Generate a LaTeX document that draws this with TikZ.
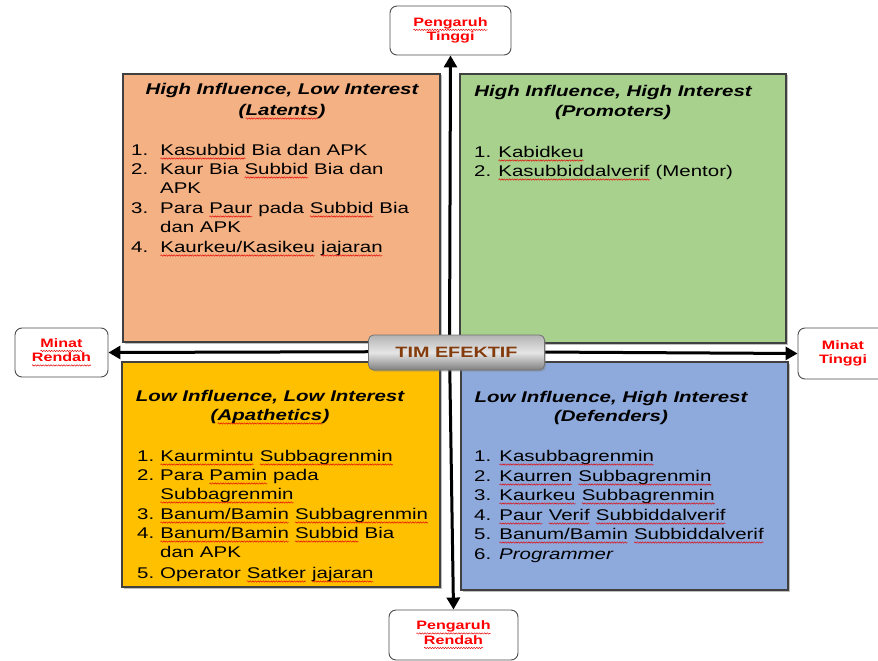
\documentclass[tikz,border=0pt]{standalone}
\usepackage{fontspec}
\setmainfont{Liberation Sans}[FakeStretch=1.32]
\usetikzlibrary{arrows.meta,shadows,decorations.pathmorphing}
\newcommand\sq[1]{\tikz[baseline=(w.base),x=1pt,y=1pt,sharp corners]{\node[shape=rectangle,inner sep=0pt,outer sep=0pt,minimum width=0pt,minimum height=0pt,draw=none,fill=none,anchor=base] (w) at (0,0) {#1};
  \draw[red!90!black, sharp corners, line width=0.45pt, decorate, decoration={snake, amplitude=0.7pt, segment length=2.6pt}] ([yshift=-3.5pt]w.base west) -- ([yshift=-3.5pt]w.base east);}}
\definecolor{qorange}{HTML}{F4B183}
\definecolor{qgreen}{HTML}{A9D18E}
\definecolor{qyellow}{HTML}{FFC000}
\definecolor{qblue}{HTML}{8EA9DB}
\definecolor{timtext}{HTML}{843C0C}
\begin{document}
\begin{tikzpicture}[x=1pt,y=-1pt,
  quad/.style={draw=black!75, line width=1.2pt, drop shadow={shadow xshift=1.5pt, shadow yshift=-1.5pt, opacity=0.5}},
  hd/.style={font=\fontsize{15.5}{18}\selectfont\bfseries\itshape, anchor=base, inner sep=0pt},
  li/.style={font=\fontsize{15.5}{18}\selectfont, anchor=base west, inner sep=0pt},
  lbl/.style={draw=black!70, line width=0.9pt, rounded corners=7pt, fill=white, align=center,
     font=\fontsize{12.2}{14.5}\selectfont\bfseries, text=red, inner sep=0pt},
  axis/.style={line width=3pt, -{Triangle[width=13pt,length=12pt]}}]
\useasboundingbox (0,0) rectangle (878,661);
% quadrant boxes
\path[quad, fill=qorange] (123,74) rectangle (440,342);
\path[quad, fill=qgreen] (460,74) rectangle (786,343);
\path[quad, fill=qyellow] (122,362) rectangle (440,587);
\path[quad, fill=qblue] (461,362) rectangle (788,590);
% label boxes
\node[lbl, minimum width=121pt, minimum height=49pt] (top) at (450.5,30.5) {\sq{Pengaruh}\\Tinggi};
\node[lbl, minimum width=129pt, minimum height=50pt] (bot) at (453.5,635) {\sq{Pengaruh}\\\sq{Rendah}};
\node[lbl, minimum width=93pt, minimum height=49pt] (left) at (61.5,352.5) {\sq{Minat}\\\sq{Rendah}};
\node[lbl, minimum width=90pt, minimum height=51pt] (right) at (843,353.5) {Minat\\Tinggi};
% axes
\coordinate (c) at (449.5,351.5);
\draw[axis] (c) -- (top.south);
\draw[axis] (c) -- (bot.north);
\draw[axis] (c) -- (left.east);
\draw[axis] (c) -- (right.west);
% centre
\node[draw=black!55, line width=0.8pt, rounded corners=5pt, minimum width=176pt, minimum height=35pt,
  top color=black!30, bottom color=black!50, middle color=black!10,
  drop shadow={shadow xshift=1.5pt, shadow yshift=-1.5pt, opacity=0.4},
  font=\fontsize{15}{17}\selectfont\bfseries, text=timtext] (tim) at (456.5,352.5) {TIM EFEKTIF};
% TL
\node[hd] (tlh1) at (282,95) {High Influence, Low Interest};
\node[hd] (tlh2) at (282,115) {(\sq{Latents})};
\node[li] (tl1n) at (131,155) {1.};
\node[li] (tl1) at (160,155) {\sq{Kasubbid} Bia dan APK};
\node[li] (tl2n) at (131,174) {2.};
\node[li] (tl2) at (160,174) {Kaur Bia \sq{Subbid} Bia dan};
\node[li] (tl2b) at (160,193) {APK};
\node[li] (tl3n) at (131,213) {3.};
\node[li] (tl3) at (160,213) {Para \sq{Paur} pada \sq{Subbid} Bia};
\node[li] (tl3b) at (160,232) {dan APK};
\node[li] (tl4n) at (131,252) {4.};
\node[li] (tl4) at (160,252) {\sq{Kaurkeu/Kasikeu} \sq{jajaran}};
% TR
\node[hd] (trh1) at (613,96) {High Influence, High Interest};
\node[hd] (trh2) at (613,116) {(Promoters)};
\node[li] (tr1n) at (474,157) {1.};
\node[li] (tr1) at (498,157) {\sq{Kabidkeu}};
\node[li] (tr2n) at (474,176) {2.};
\node[li] (tr2) at (498,176) {\sq{Kasubbiddalverif} (Mentor)};
% BL
\node[hd] (blh1) at (270,401) {Low Influence, Low Interest};
\node[hd] (blh2) at (270,420) {(\sq{Apathetics})};
\node[li] (bl1n) at (137,461) {1.};
\node[li] (bl1) at (160,461) {\sq{Kaurmintu} \sq{Subbagrenmin}};
\node[li] (bl2n) at (137,480) {2.};
\node[li] (bl2) at (160,480) {Para \sq{Pamin} pada};
\node[li] (bl2b) at (160,499) {\sq{Subbagrenmin}};
\node[li] (bl3n) at (137,519) {3.};
\node[li] (bl3) at (160,519) {\sq{Banum/Bamin} \sq{Subbagrenmin}};
\node[li] (bl4n) at (137,538) {4.};
\node[li] (bl4) at (160,538) {\sq{Banum/Bamin} \sq{Subbid} Bia};
\node[li] (bl4b) at (160,557) {dan APK};
\node[li] (bl5n) at (137,578) {5.};
\node[li] (bl5) at (160,578) {Operator \sq{Satker} \sq{jajaran}};
% BR
\node[hd] (brh1) at (611,402) {Low Influence, High Interest};
\node[hd] (brh2) at (611,421) {(Defenders)};
\node[li] (br1n) at (474,461) {1.};
\node[li] (br1) at (499,461) {\sq{Kasubbagrenmin}};
\node[li] (br2n) at (474,481) {2.};
\node[li] (br2) at (499,481) {\sq{Kaurren} \sq{Subbagrenmin}};
\node[li] (br3n) at (474,500) {3.};
\node[li] (br3) at (499,500) {\sq{Kaurkeu} \sq{Subbagrenmin}};
\node[li] (br4n) at (474,520) {4.};
\node[li] (br4) at (499,520) {\sq{Paur} \sq{Verif} \sq{Subbiddalverif}};
\node[li] (br5n) at (474,539) {5.};
\node[li] (br5) at (499,539) {\sq{Banum/Bamin} \sq{Subbiddalverif}};
\node[li] (br6n) at (474,559) {6.};
\node[li] (br6) at (499,559) {\itshape Programmer};
\end{tikzpicture}
\end{document}
